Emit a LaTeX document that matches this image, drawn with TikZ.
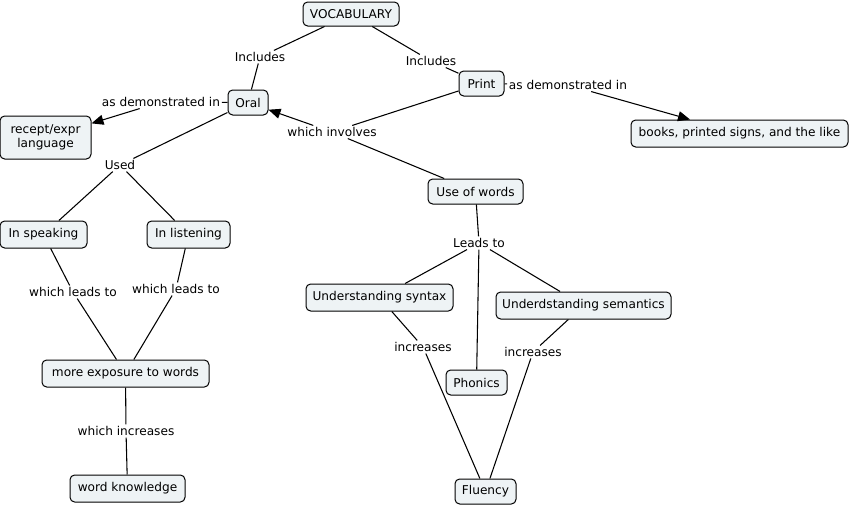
\documentclass[tikz,border=0pt]{standalone}
\usepackage{fontspec}
\setmainfont{DejaVu Sans}
\usetikzlibrary{arrows.meta}
\definecolor{boxfill}{RGB}{238,243,245}
\tikzset{
  cnode/.style={draw=black, fill=boxfill, rounded corners=3.5pt, line width=0.75pt,
    inner xsep=0pt, inner ysep=0pt, minimum height=19.5pt, align=center,
    font=\fontsize{9.1}{11}\selectfont},
  lbl/.style={inner sep=1.2pt, font=\fontsize{9.1}{11}\selectfont},
  conn/.style={line width=0.8pt},
  arr/.style={line width=0.8pt, -{Triangle[length=9pt,width=7.5pt]}}
}
\begin{document}
\begin{tikzpicture}[x=0.75pt,y=-0.75pt]
\useasboundingbox (0,0) rectangle (851,508);
% concepts
\node[cnode, minimum width=72pt, minimum height=18pt] (voc) at (351,14) {VOCABULARY};
\node[cnode, minimum width=30pt, minimum height=18.75pt] (oral) at (248,102.5) {Oral};
\node[cnode, minimum width=68.25pt, minimum height=32.25pt] (rec) at (45.5,137.5) {recept/expr\\language};
\node[cnode, minimum width=33.75pt, minimum height=18.75pt] (print) at (481.5,83.5) {Print};
\node[cnode, minimum width=162.75pt, minimum height=20.25pt] (books) at (739.5,133.5) {books, printed signs, and the like};
\node[cnode, minimum width=71.25pt, minimum height=18.75pt] (use) at (475.5,191.5) {Use of words};
\node[cnode, minimum width=65.25pt, minimum height=20.25pt] (speak) at (43.5,234.5) {In speaking};
\node[cnode, minimum width=62.25pt, minimum height=20.25pt] (listen) at (188.5,234.5) {In listening};
\node[cnode, minimum width=110.25pt, minimum height=20.25pt] (syn) at (379.5,297.5) {Understanding syntax};
\node[cnode, minimum width=131.25pt, minimum height=20.25pt] (sem) at (583.5,305.5) {Underdstanding semantics};
\node[cnode, minimum width=45.75pt, minimum height=18.75pt] (phon) at (476.5,382.5) {Phonics};
\node[cnode, minimum width=125.25pt, minimum height=20.25pt] (expo) at (125.5,373.5) {more exposure to words};
\node[cnode, minimum width=86.25pt, minimum height=20.25pt] (wk) at (127.5,488.5) {word knowledge};
\node[cnode, minimum width=45.75pt, minimum height=18.75pt] (flu) at (485.5,491.5) {Fluency};
% linking phrases
\node[lbl] (inc1) at (260,57) {Includes};
\node[lbl] (inc2) at (431,61) {Includes};
\node[lbl] (asd1) at (161,102) {as demonstrated in};
\node[lbl] (asd2) at (568,85) {as demonstrated in};
\node[lbl] (inv) at (332,132) {which involves};
\node[lbl] (used) at (120,165) {Used};
\node[lbl] (wlt1) at (73,292) {which leads to};
\node[lbl] (wlt2) at (176,289) {which leads to};
\node[lbl] (leads) at (479,243) {Leads to};
\node[lbl] (incr1) at (423,347) {increases};
\node[lbl] (incr2) at (533,352) {increases};
\node[lbl] (winc) at (126,431) {which increases};
% connectors
\draw[conn] (voc) -- (inc1); \draw[conn] (inc1) -- (oral);
\draw[conn] (voc) -- (inc2); \draw[conn] (inc2) -- (print);
\draw[conn] (oral) -- (asd1); \draw[arr] (asd1) -- (rec);
\draw[conn] (print) -- (asd2); \draw[arr] (asd2) -- (books);
\draw[conn] (print) -- (inv); \draw[conn] (use) -- (inv); \draw[arr] (inv) -- (oral);
\draw[conn] (oral) -- (used); \draw[conn] (used) -- (speak); \draw[conn] (used) -- (listen);
\draw[conn] (speak) -- (wlt1); \draw[conn] (wlt1) -- (expo);
\draw[conn] (listen) -- (wlt2); \draw[conn] (wlt2) -- (expo);
\draw[conn] (expo) -- (winc); \draw[conn] (winc) -- (wk);
\draw[conn] (use) -- (leads); \draw[conn] (leads) -- (syn); \draw[conn] (leads) -- (sem); \draw[conn] (leads) -- (phon);
\draw[conn] (syn) -- (incr1); \draw[conn] (incr1) -- (flu);
\draw[conn] (sem) -- (incr2); \draw[conn] (incr2) -- (flu);
\end{tikzpicture}
\end{document}
